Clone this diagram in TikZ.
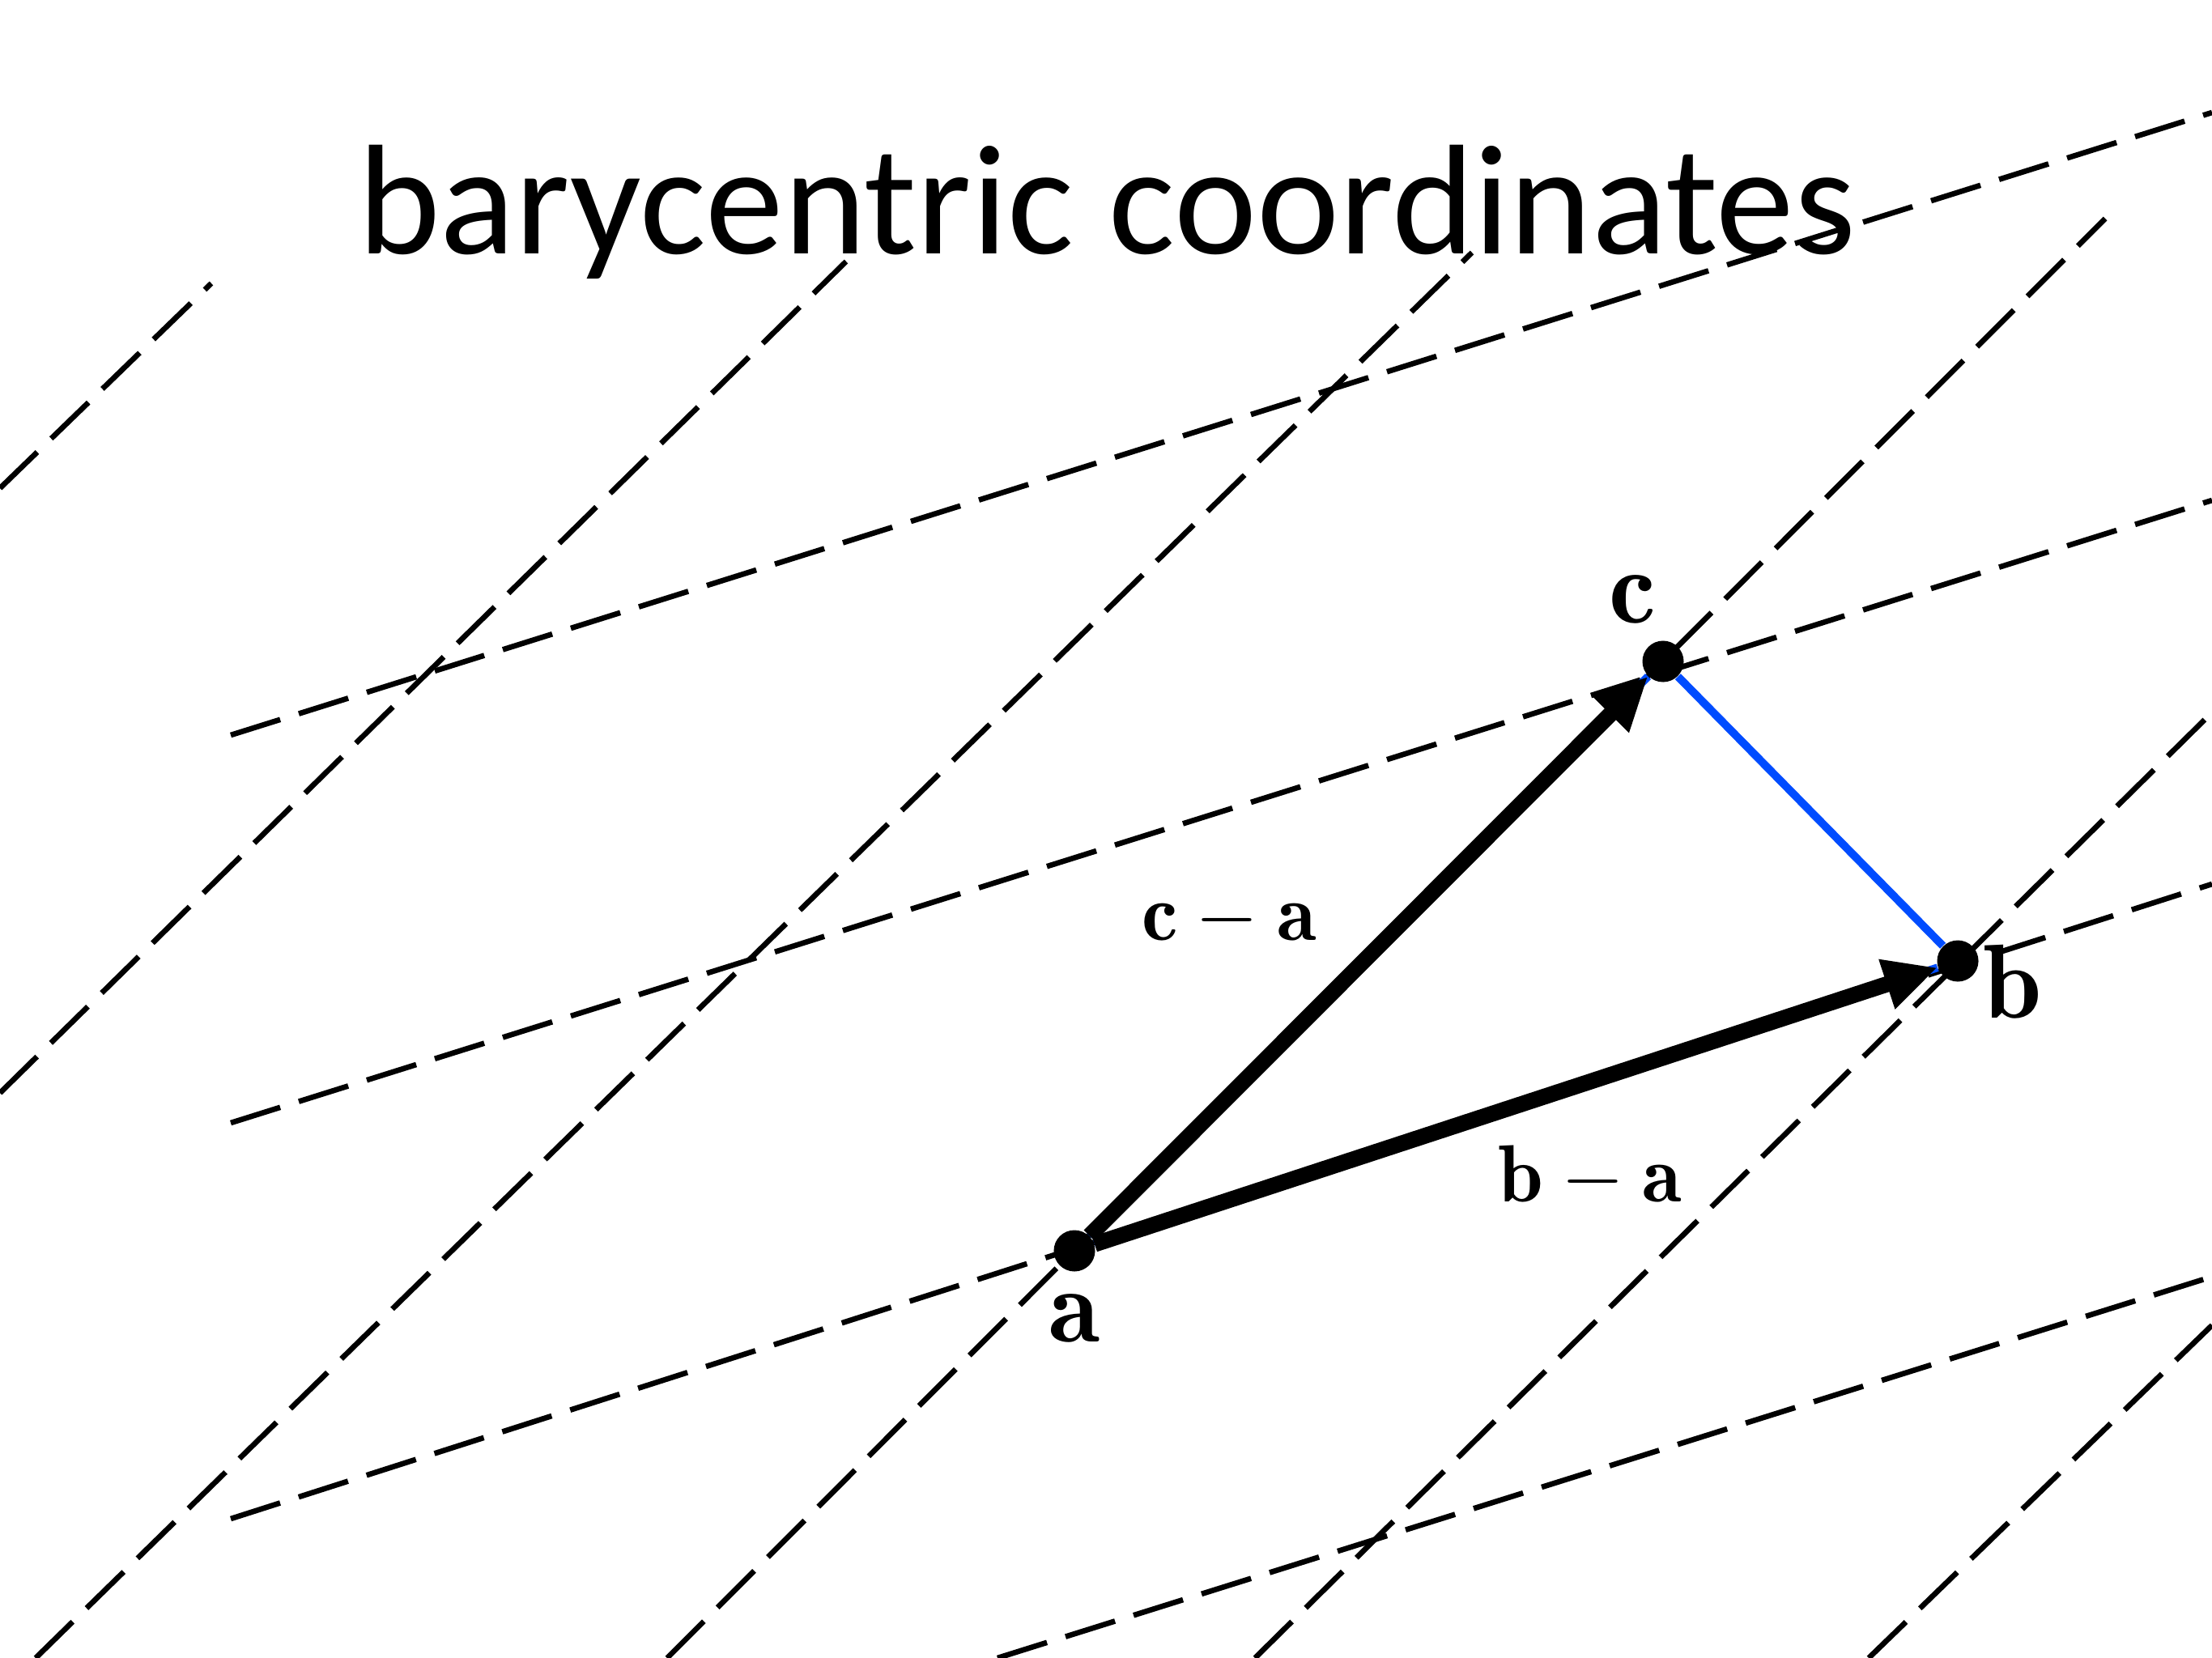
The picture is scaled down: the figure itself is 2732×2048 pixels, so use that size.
\RequirePackage{fix-cm}
\documentclass[tikz,border=0pt]{standalone}
\usepackage{fontspec}
\usepackage{amsmath}
\usetikzlibrary{arrows.meta,positioning}
\newfontfamily\titlefont{Carlito}
\definecolor{sideblue}{RGB}{0,76,255}

\begin{document}
\begin{tikzpicture}[
    x=0.01cm, y=-0.01cm,
    lattice/.style={draw, line width=1.9pt, dash pattern=on 0.64cm off 0.24cm},
    vertexdot/.style={circle, fill, inner sep=0pt, minimum size=0.51cm},
    vector/.style={draw, line width=5.6pt, -{Triangle[length=0.66cm, width=0.6cm]}},
    side/.style={draw=sideblue, line width=2.8pt},
    ptlabel/.style={inner sep=0pt, font=\fontsize{37}{40}\selectfont},
    veclabel/.style={inner sep=0pt, font=\fontsize{28.5}{32}\selectfont}
]
\useasboundingbox (0,0) rectangle (2732,2048);

% lines parallel to b-a
\foreach \xa/\ya/\xb/\yb in {285/908/2732/139, 285/1387/2732/618, 285/1876/2732/1092, 1232/2048/2732/1577}
    \draw[lattice] (\xa,\ya) -- (\xb,\yb);
% lines parallel to c-a
\foreach \xa/\ya/\xb/\yb in {0/603/261/350, 0/1350/1045/323, 44/2048/1818/312, 824/2048/2600/270, 1550/2048/2732/880, 2308/2048/2732/1637}
    \draw[lattice] (\xa,\ya) -- (\xb,\yb);

\node[font=\titlefont\fontsize{55}{60}\selectfont, anchor=base] (title) at (1367,313) {barycentric coordinates};

\node[vertexdot] (a) at (1327,1545) {};
\node[vertexdot] (b) at (2418,1187) {};
\node[vertexdot] (c) at (2054,817) {};

\draw[side] (a) -- (b) -- (c) -- (a);
\draw[vector] (a) -- (c);
\draw[vector] (a) -- (b);

\node[ptlabel, below=0.27cm of a] (alabel) {$\mathbf{a}$};
\node[ptlabel, right=0.05cm of b, yshift=-0.26cm] (blabel) {$\mathbf{b}$};
\node[ptlabel, above=0.2cm of c, xshift=-0.38cm] (clabel) {$\mathbf{c}$};

\node[veclabel] (calabel) at (1518,1136) {$\mathbf{c}-\mathbf{a}$};
\node[veclabel] (balabel) at (1964,1454) {$\mathbf{b}-\mathbf{a}$};

\end{tikzpicture}
\end{document}
